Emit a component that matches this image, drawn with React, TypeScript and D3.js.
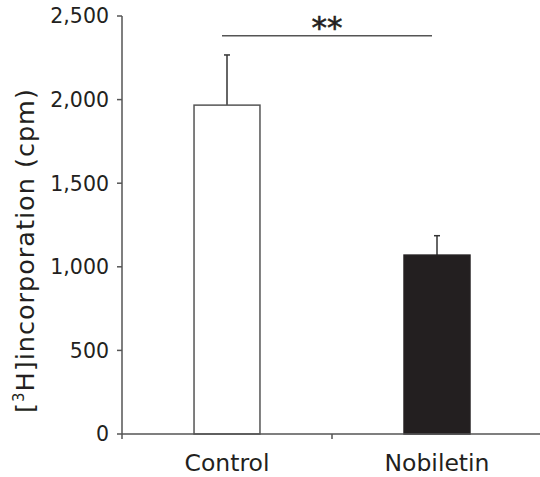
import React from "react";
import * as d3 from "d3";

const categories = ["Control", "Nobiletin"];
const means = [1967, 1070];
const errors = [300, 116];
const yTicks = [0, 500, 1000, 1500, 2000, 2500];
const barFills = ["#ffffff", "#231f20"];
const sigLabel = "**";

const W = 540;
const H = 477;
const FONT = "DejaVu Sans, Verdana, sans-serif";

export default function App() {
  const y = d3.scaleLinear().domain([0, 2500]).range([434, 16]);
  const x = d3.scaleBand().domain(categories).range([122, 542]).padding(0);
  const bw = x.bandwidth() * 0.314;
  const fmt = d3.format(",");
  const axisColor = "#555";
  const x0 = 122;
  const y0 = y(0);

  return (
    <svg
      width={W}
      height={H}
      style={{ position: "absolute", left: 0, top: 0, background: "#fff" }}
      fontFamily={FONT}
    >
      {/* bars */}
      {categories.map((c, i) => {
        const cx = (x(c) as number) + x.bandwidth() / 2;
        return (
          <g key={c}>
            <line
              x1={cx}
              x2={cx}
              y1={y(means[i])}
              y2={y(means[i] + errors[i])}
              stroke="#333"
              strokeWidth={1.5}
            />
            <line
              x1={cx - 3}
              x2={cx + 3}
              y1={y(means[i] + errors[i])}
              y2={y(means[i] + errors[i])}
              stroke="#333"
              strokeWidth={1.5}
            />
            <rect
              x={cx - bw / 2}
              y={y(means[i])}
              width={bw}
              height={y0 - y(means[i])}
              fill={barFills[i]}
              stroke={i === 0 ? "#555" : "#231f20"}
              strokeWidth={1.5}
            />
          </g>
        );
      })}

      {/* y axis */}
      <line x1={x0} x2={x0} y1={y(2500)} y2={y0 + 5} stroke={axisColor} strokeWidth={1.5} />
      {yTicks.map((t) => (
        <g key={t}>
          <line x1={x0 - 5} x2={x0} y1={y(t)} y2={y(t)} stroke={axisColor} strokeWidth={1.5} />
          <text
            x={x0 - 13}
            y={y(t)}
            dy="0.36em"
            textAnchor="end"
            fontSize={20.5}
            fill="#231f20"
          >
            {fmt(t)}
          </text>
        </g>
      ))}

      {/* x axis */}
      <line x1={x0} x2={W} y1={y0} y2={y0} stroke={axisColor} strokeWidth={1.5} />
      {categories.slice(1).map((c) => (
        <line
          key={c}
          x1={x(c) as number}
          x2={x(c) as number}
          y1={y0}
          y2={y0 + 5}
          stroke={axisColor}
          strokeWidth={1.5}
        />
      ))}
      {categories.map((c) => (
        <text
          key={c}
          x={(x(c) as number) + x.bandwidth() / 2}
          y={471}
          textAnchor="middle"
          fontSize={23.5}
          fill="#231f20"
        >
          {c}
        </text>
      ))}

      {/* y label */}
      <text
        transform={`translate(34, ${(82 + 419) / 2}) rotate(-90)`}
        textAnchor="middle"
        fontSize={25.5}
        letterSpacing={1}
        fill="#231f20"
      >
        [<tspan fontSize={15} dy={-10}>3</tspan>
        <tspan dy={10}>H]incorporation (cpm)</tspan>
      </text>

      {/* significance */}
      <line
        x1={(x("Control") as number) + x.bandwidth() / 2 - 5}
        x2={(x("Nobiletin") as number) + x.bandwidth() / 2 - 5}
        y1={35.7}
        y2={35.7}
        stroke="#555"
        strokeWidth={1.5}
      />
      <text
        x={(x("Nobiletin") as number) - 5}
        y={38}
        textAnchor="middle"
        fontSize={31}
        fill="#231f20"
        stroke="#231f20"
        strokeWidth={0.6}
      >
        {sigLabel}
      </text>
    </svg>
  );
}
